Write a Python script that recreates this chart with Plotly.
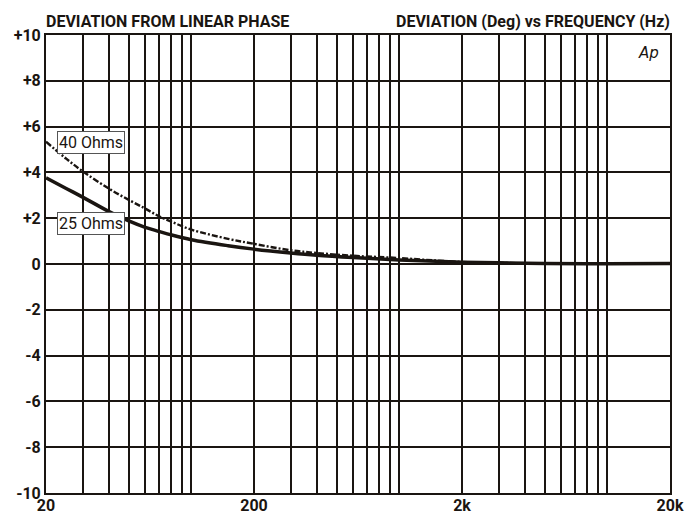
import numpy as np
import plotly.graph_objects as go

freq = [20, 25, 30, 40, 50, 60, 70, 80, 100, 150, 200, 300, 400, 600, 1000, 1500, 2000, 3000, 5000, 10000, 20000]
dev_25 = [3.76, 3.3, 2.92, 2.3, 1.88, 1.6, 1.42, 1.27, 1.06, 0.8, 0.65, 0.48, 0.38, 0.28, 0.18, 0.12, 0.08, 0.05, 0.02, 0.01, 0.02]
dev_40 = [5.34, 4.6, 4.05, 3.3, 2.8, 2.42, 2.08, 1.85, 1.5, 1.1, 0.88, 0.6, 0.48, 0.36, 0.26, 0.15, 0.09, 0.05, 0.02, 0.01, 0.03]

x_grid = [20, 30, 40, 50, 60, 70, 80, 90, 100, 200, 300, 400, 500, 600, 700, 800, 900, 1000,
          2000, 3000, 4000, 5000, 6000, 7000, 8000, 9000, 10000, 20000]
x_labels = {20: "20", 200: "200", 2000: "2k", 20000: "20k"}
y_ticks = [10, 8, 6, 4, 2, 0, -2, -4, -6, -8, -10]
y_labels = ["+10", "+8", "+6", "+4", "+2", "0", "-2", "-4", "-6", "-8", "-10"]

FONT = "Roboto, Liberation Sans, sans-serif"
INK = "#1a1511"

fig = go.Figure()
fig.add_trace(go.Scatter(x=freq, y=dev_25, mode="lines", line=dict(color=INK, width=3.5, shape="spline"),
                         name="25 Ohms", showlegend=False))
fig.add_trace(go.Scatter(x=freq, y=dev_40, mode="lines", line=dict(color=INK, width=2.4, dash="6px,2px,2px,2px", shape="spline"),
                         name="40 Ohms", showlegend=False))

# page body adds an 8px offset, so the figure is sized to fill the rest of the window
fig.update_layout(
    width=685, height=506,
    margin=dict(l=38, r=23, t=27, b=21),
    paper_bgcolor="white", plot_bgcolor="white",
    font=dict(family=FONT, color=INK),
    xaxis=dict(type="log", range=[np.log10(20), np.log10(20000)],
               tickvals=x_grid, ticktext=[x_labels.get(v, "") for v in x_grid],
               showgrid=True, gridcolor=INK, gridwidth=2,
               showline=True, linecolor=INK, linewidth=2, mirror=True,
               ticks="", zeroline=False, automargin=False, ticklabelstandoff=-3,
               tickfont=dict(family=FONT, size=16, color=INK, weight="bold")),
    yaxis=dict(range=[-10, 10], tickvals=y_ticks, ticktext=y_labels,
               showgrid=True, gridcolor=INK, gridwidth=2,
               showline=True, linecolor=INK, linewidth=2, mirror=True,
               ticks="", zeroline=False, automargin=False,
               tickfont=dict(family=FONT, size=16, color=INK, weight="bold")),
)

fig.add_annotation(text="DEVIATION FROM LINEAR PHASE", xref="paper", yref="paper", x=0.0, y=1.0,
                   xanchor="left", yanchor="bottom", showarrow=False, yshift=2, xshift=-2,
                   font=dict(family=FONT, size=16, color=INK, weight="bold"))
fig.add_annotation(text="DEVIATION (Deg) vs FREQUENCY (Hz)", xref="paper", yref="paper", x=1.0, y=1.0,
                   xanchor="right", yanchor="bottom", showarrow=False, yshift=2, xshift=2,
                   font=dict(family=FONT, size=16, color=INK, weight="bold"))
fig.add_annotation(text="<i>Ap</i>", xref="paper", yref="paper", x=0.985, y=0.985,
                   xanchor="right", yanchor="top", showarrow=False,
                   font=dict(family="DejaVu Sans, sans-serif", size=15, color=INK))

fig.add_annotation(text="40 Ohms", x=np.log10(22.6), y=5.3, xanchor="left", yanchor="middle",
                   showarrow=False, bgcolor="white", bordercolor="#555555", borderwidth=1, borderpad=1,
                   font=dict(family=FONT, size=16, color=INK))
fig.add_annotation(text="25 Ohms", x=np.log10(22.6), y=1.75, xanchor="left", yanchor="middle",
                   showarrow=False, bgcolor="white", bordercolor="#555555", borderwidth=1, borderpad=1,
                   font=dict(family=FONT, size=16, color=INK))

fig.write_html("out.html")
